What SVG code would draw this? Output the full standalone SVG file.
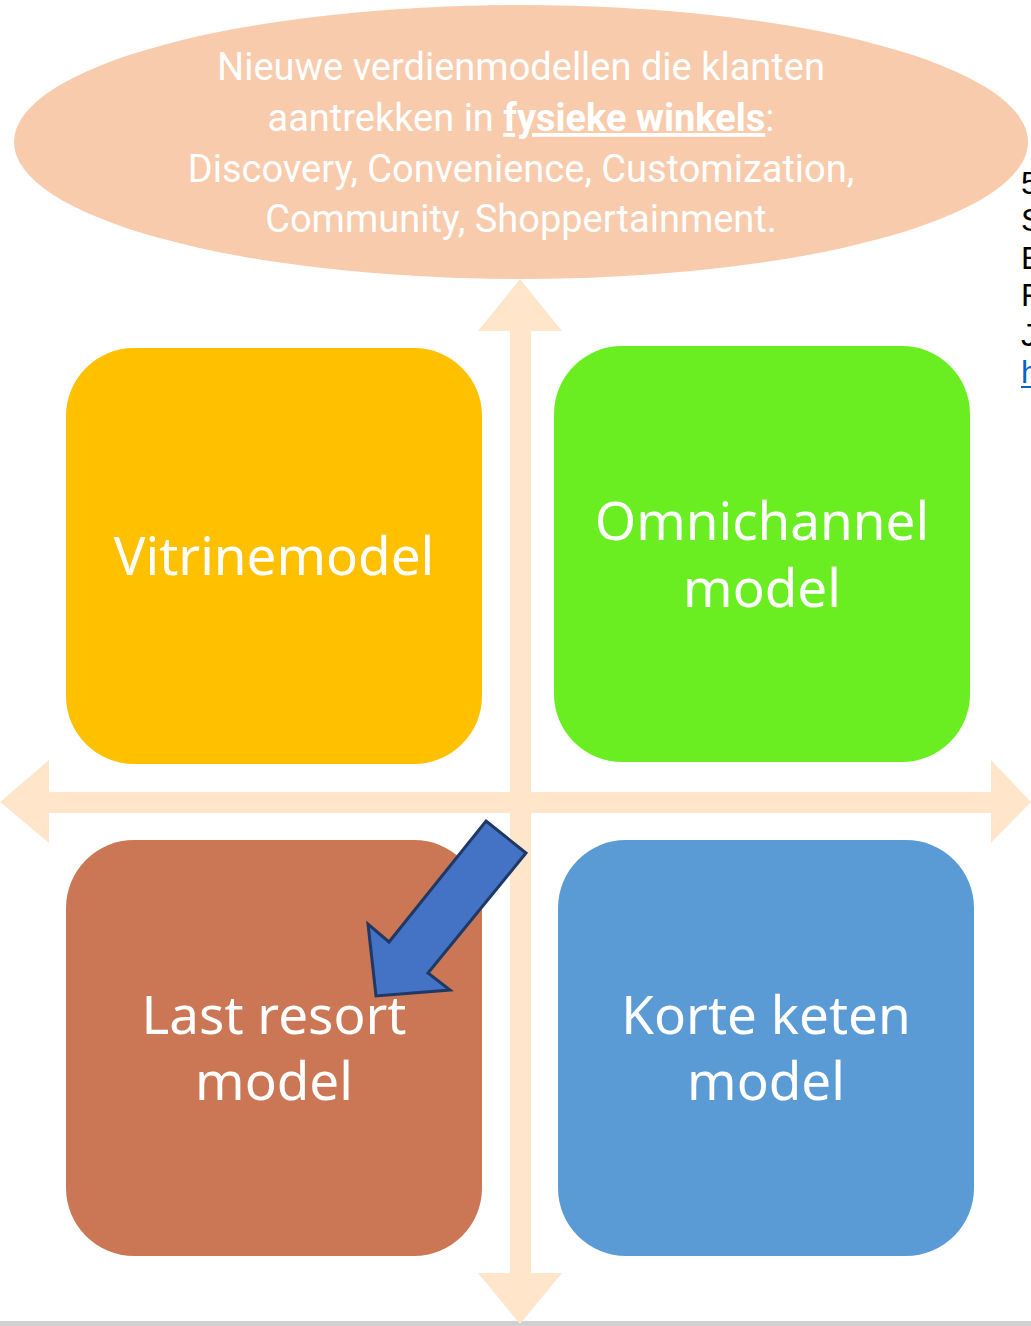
<svg xmlns="http://www.w3.org/2000/svg" width="1031" height="1326" viewBox="0 0 1031 1326">
<style>
.side{font-family:"Liberation Sans",Arial,sans-serif;font-size:32px;fill:#000}
.ell{font-family:Roboto,"Noto Sans",sans-serif;font-size:38px;fill:#fff;text-anchor:middle}
.box{font-family:"Noto Sans","Open Sans",sans-serif;font-size:53px;fill:#fff;text-anchor:middle}
.axis{fill:#FFE6CB}
</style>
<rect width="1031" height="1326" fill="#fff"/>
<rect x="0" y="1321" width="1031" height="5" fill="#D0D0D0"/>
<g id="side-text" class="side">
<text x="1021" y="194">5</text>
<text x="1021" y="231">S</text>
<text x="1021" y="269">E</text>
<text x="1021" y="306">F</text>
<text x="1021" y="346">J</text>
<text x="1021" y="383" fill="#0563C1">h</text>
<rect x="1021" y="386" width="10" height="2" fill="#0563C1"/>
</g>
<g id="connectors">
<polygon class="axis" points="510,331 478,331 520,279 562,331 531,331 531,1273 562,1273 520,1324 478,1273 510,1273"/>
<polygon class="axis" points="49,792 49,760 0,802 49,843 49,813 991,813 991,843 1031,802 991,760 991,792"/>
</g>
<g id="top-ellipse">
<ellipse cx="521" cy="142" rx="507" ry="137" fill="#F8CBAD"/>
<text class="ell" x="521" y="80">Nieuwe verdienmodellen die klanten</text>
<text class="ell" x="521" y="131">aantrekken in <tspan font-weight="700" text-decoration="underline">fysieke winkels</tspan>:</text>
<text class="ell" x="521" y="182">Discovery, Convenience, Customization,</text>
<text class="ell" x="521" y="232">Community, Shoppertainment.</text>
</g>
<g id="vitrinemodel">
<rect x="66" y="348" width="416" height="416" rx="68" fill="#FFC000"/>
<text class="box" x="274" y="575">Vitrinemodel</text>
</g>
<g id="omnichannel">
<rect x="554" y="346" width="416" height="416" rx="68" fill="#6AEE22"/>
<text class="box" x="762" y="540">Omnichannel</text>
<text class="box" x="762" y="607">model</text>
</g>
<g id="last-resort">
<rect x="66" y="840" width="416" height="416" rx="68" fill="#CB7755"/>
<text class="box" x="274" y="1034">Last resort</text>
<text class="box" x="274" y="1100">model</text>
</g>
<g id="korte-keten">
<rect x="558" y="840" width="416" height="416" rx="68" fill="#5B9BD5"/>
<text class="box" x="766" y="1034">Korte keten</text>
<text class="box" x="766" y="1100">model</text>
</g>
<g id="blue-arrow">
<polygon points="486,821 526,853 428,973 450,990 376,996 368,924 389,942" fill="#4472C4" stroke="#1F3864" stroke-width="3" stroke-linejoin="miter"/>
</g>
</svg>
